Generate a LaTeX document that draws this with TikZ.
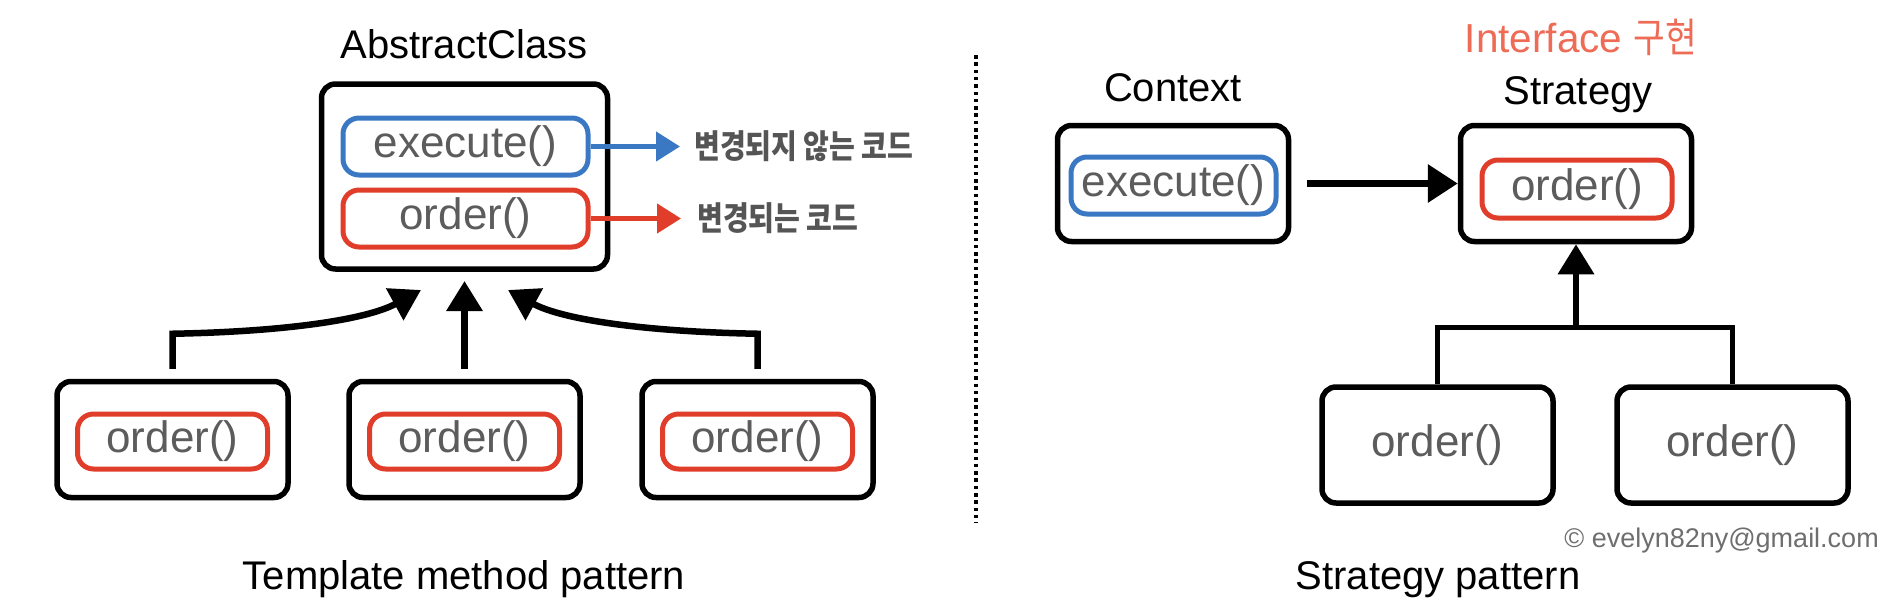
\documentclass[tikz,border=0pt]{standalone}
\usepackage{fontspec}
\setmainfont{Liberation Sans}
\newfontfamily\krfont{Noto Sans CJK KR}[FakeStretch=0.85]
\usetikzlibrary{arrows.meta}
\definecolor{pblue}{HTML}{3B78C4}
\definecolor{pred}{HTML}{E03E2B}
\definecolor{tgray}{HTML}{5C5C5C}
\definecolor{lgray}{HTML}{555555}
\definecolor{salmon}{HTML}{EE6B56}
\definecolor{cgray}{HTML}{6E6E6E}
\begin{document}
\begin{tikzpicture}[x=1pt,y=-1pt,
  box/.style={draw=black, line width=5.5pt, rounded corners=14pt, minimum width=231pt, minimum height=116pt, inner sep=0pt, text=tgray, font=\fontsize{44}{48}\selectfont},
  pill/.style={draw=#1, line width=5pt, rounded corners=16pt, inner sep=0pt, minimum height=57pt, text=tgray, font=\fontsize{44}{48}\selectfont},
  title/.style={font=\fontsize{40}{44}\selectfont, anchor=base, inner sep=0pt},
  klabel/.style={font=\krfont\bfseries\fontsize{33}{36}\selectfont, text=lgray, anchor=west, inner sep=0pt},
  carrow/.style={draw=#1, line width=4.5pt, -{Triangle[length=24pt,width=29pt]}},
  barrow/.style={draw=black, line width=6.5pt, -{Triangle[length=30pt,width=35pt]}},
  bline/.style={draw=black, line width=5pt},
]
\useasboundingbox (0,0) rectangle (1896,614);

% ---------- Template method pattern ----------
\node[title] (tAbs) at (464,58) {AbstractClass};
\node[box, minimum width=286pt, minimum height=185pt] (abs) at (464.5,176.5) {};
\node[pill=pblue, minimum width=245pt] (absExe) at (465.5,146.5) {execute()};
\node[pill=pred, minimum width=245pt] (absOrd) at (465.5,218.5) {order()};

\coordinate (tipA) at (680,146.5);
\coordinate (tipB) at (681,218.5);
\draw[carrow=pblue] (absExe.east) -- (tipA);
\draw[carrow=pred] (absOrd.east) -- (tipB);
\node[klabel] (lblA) at (694,146.5) {변경되지 않는 코드};
\node[klabel] (lblB) at (697,218.5) {변경되는 코드};

\node[box] (c1) at (172.5,439.5) {};
\node[box] (c2) at (464.5,439.5) {};
\node[box] (c3) at (757.5,439.5) {};
\node[pill=pred, minimum width=190pt, minimum height=55pt] (p1) at (172.5,441.5) {order()};
\node[pill=pred, minimum width=190pt, minimum height=55pt] (p2) at (464.5,441.5) {order()};
\node[pill=pred, minimum width=190pt, minimum height=55pt] (p3) at (757.5,441.5) {order()};

\coordinate (tipL) at (421,290);
\coordinate (tipM) at (464.5,281);
\coordinate (tipR) at (508,290);
\draw[barrow, shorten <=10pt] (c2.north) -- (tipM);
\draw[barrow, shorten <=10pt] (c1.north) -- ++(0,-45) .. controls +(110,-2) and +(-55,30) .. (tipL);
\draw[barrow, shorten <=10pt] (c3.north) -- ++(0,-45) .. controls +(-110,-2) and +(55,30) .. (tipR);

\node[title] (capL) at (464,589) {Template method pattern};

% ---------- divider ----------
\coordinate (divTop) at (976,55);
\coordinate (divBot) at (976,523);
\draw[line width=3.5pt, dash pattern=on 3.5pt off 3.8pt] (divTop) -- (divBot);

% ---------- Strategy pattern ----------
\node[title, text=salmon, font=\fontsize{40.5}{44}\selectfont] (tInt) at (1581,52) {Interface {\krfont 구현}};
\node[title] (tCtx) at (1173,101) {Context};
\node[title] (tStr) at (1578,104) {Strategy};

\node[box] (ctx) at (1173,183.5) {};
\node[pill=pblue, minimum width=205pt] (ctxExe) at (1173.5,185.5) {execute()};
\node[box] (strat) at (1576,183.5) {};
\node[pill=pred, minimum width=190pt, minimum height=58pt] (strOrd) at (1577,189) {order()};

\draw[barrow, -{Triangle[length=30pt,width=37pt]}, shorten <=16pt] (ctx.east) -- (strat.west);

\node[box] (s1) at (1437.5,445) {order()};
\node[box] (s2) at (1732.5,445) {order()};
\coordinate (barM) at (1576,330);
\draw[bline] (s1.north) -- ++(0,-57) -| (s2.north);
\draw[barrow] (barM) -- (strat.south);

\node[font=\fontsize{27}{30}\selectfont, text=cgray, anchor=east, inner sep=0pt] (copy) at (1879,541) {© evelyn82ny@gmail.com};
\node[title] (capR) at (1438,589) {Strategy pattern};
\end{tikzpicture}
\end{document}
